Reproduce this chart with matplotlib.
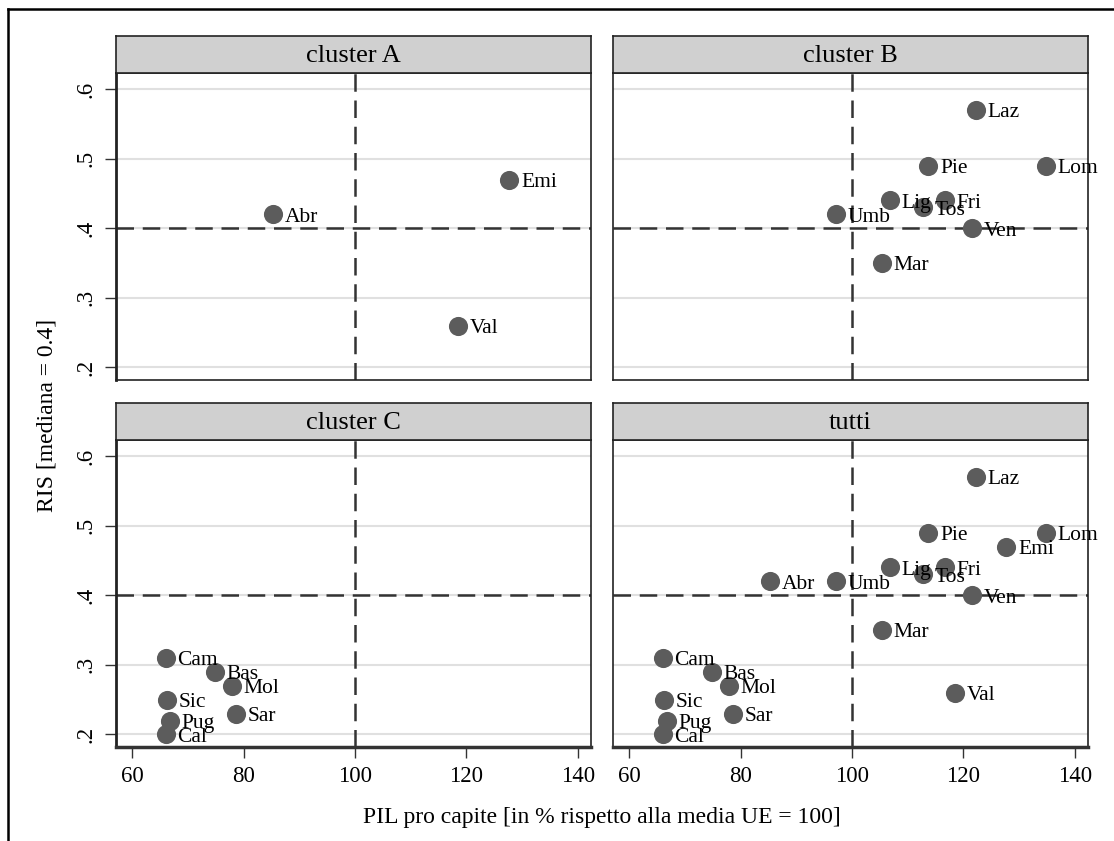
import matplotlib
matplotlib.use("Agg")
import matplotlib.pyplot as plt
from matplotlib.lines import Line2D

plt.rcParams['font.family'] = ['Liberation Serif', 'DejaVu Serif']

# Data
regions_A = ["Abr", "Emi", "Val"]
pil_A = [85.3, 127.7, 118.5]
ris_A = [0.42, 0.47, 0.26]

regions_B = ["Laz", "Pie", "Lom", "Lig", "Fri", "Tos", "Umb", "Ven", "Mar"]
pil_B = [122.3, 113.7, 134.8, 106.8, 116.7, 112.7, 97.1, 121.6, 105.4]
ris_B = [0.57, 0.49, 0.49, 0.44, 0.44, 0.43, 0.42, 0.40, 0.35]

regions_C = ["Cam", "Bas", "Mol", "Sic", "Sar", "Pug", "Cal"]
pil_C = [66.0, 74.9, 77.9, 66.2, 78.6, 66.8, 66.0]
ris_C = [0.31, 0.29, 0.27, 0.25, 0.23, 0.22, 0.20]

panel_titles = ["cluster A", "cluster B", "cluster C", "tutti"]
x_ticks = [60, 80, 100, 120, 140]
y_ticks = [0.2, 0.3, 0.4, 0.5, 0.6]
y_ticklabels = [".2", ".3", ".4", ".5", ".6"]
x_ref = 100
y_ref = 0.4
x_label = "PIL pro capite [in % rispetto alla media UE = 100]"
y_label = "RIS [mediana = 0.4]"

W, H = 1114, 841
fig = plt.figure(figsize=(W / 100, H / 100), dpi=100)

def rect(l, t, r, b):
    return [l / W, 1 - b / H, (r - l) / W, (b - t) / H]

cols = [(116, 591), (613, 1088)]
rows = [(73, 380), (440, 747)]
strip_h = 37

datasets = [
    (regions_A, pil_A, ris_A),
    (regions_B, pil_B, ris_B),
    (regions_C, pil_C, ris_C),
    (regions_A + regions_B + regions_C, pil_A + pil_B + pil_C, ris_A + ris_B + ris_C),
]

marker_col = "#5c5c5c"
for i in range(4):
    r, c = divmod(i, 2)
    l, rr = cols[c]
    t, b = rows[r]
    ax = fig.add_axes(rect(l, t, rr, b))
    ax.set_xlim(57.1, 142.4)
    ax.set_ylim(0.182, 0.623)
    for y in y_ticks:
        ax.axhline(y, color="#e0e0e0", lw=1.5, zorder=0)
    ax.axvline(x_ref, color="#333333", lw=1.8, ls=(0, (7, 3.5)), zorder=1)
    ax.axhline(y_ref, color="#333333", lw=1.8, ls=(0, (7, 3.5)), zorder=1)
    names, xs, ys = datasets[i]
    ax.scatter(xs, ys, s=190, color=marker_col, zorder=3, linewidths=0)
    for n, x, y in zip(names, xs, ys):
        ax.annotate(n, (x, y), xytext=(8.5, -2), textcoords="offset points",
                    ha="left", va="center", fontsize=15.5, color="black", zorder=4)
    for s in ax.spines.values():
        s.set_color("#222222")
        s.set_linewidth(1.2)
    ax.set_xticks(x_ticks)
    ax.set_yticks(y_ticks)
    ax.set_yticklabels(y_ticklabels, rotation=90, va="center")
    ax.tick_params(axis="both", length=8, width=1, color="#333333", labelsize=16.5)
    ax.tick_params(axis="y", pad=6)
    ax.tick_params(axis="x", pad=6)
    if r == 0:
        ax.tick_params(axis="x", bottom=False, labelbottom=False)
    else:
        ax.spines["bottom"].set_linewidth(2.5)
        ax.spines["bottom"].set_color("#333333")
    if c == 1:
        ax.tick_params(axis="y", left=False, labelleft=False)
    else:
        ax.spines["left"].set_linewidth(2)
    # strip
    sax = fig.add_axes(rect(l, t - strip_h, rr, t))
    sax.set_facecolor("#d0d0d0")
    sax.set_xticks([])
    sax.set_yticks([])
    for s in sax.spines.values():
        s.set_color("#222222")
        s.set_linewidth(1.2)
    sax.text(0.5, 0.47, panel_titles[i], ha="center", va="center", fontsize=19,
             transform=sax.transAxes)

fig.text((116 + 1088) / 2 / W, 1 - 818 / H, x_label, ha="center", va="center", fontsize=17)
fig.text(47 / W, 1 - 415 / H, y_label, ha="center", va="center", rotation=90, fontsize=17)

# outer frame (partial)
fig.add_artist(Line2D([8 / W, 1], [1 - 9 / H, 1 - 9 / H], color="black", lw=1.8,
                      transform=fig.transFigure))
fig.add_artist(Line2D([8 / W, 8 / W], [1 - 9 / H, 0], color="black", lw=1.8,
                      transform=fig.transFigure))

fig.savefig("out.png", dpi=100, facecolor="white")
